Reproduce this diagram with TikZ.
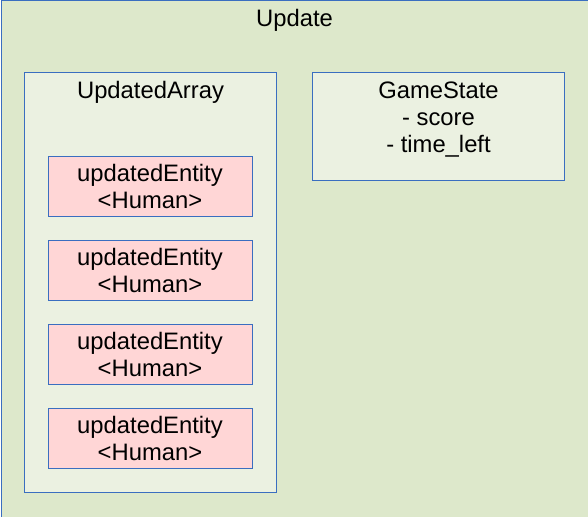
\documentclass[tikz,border=0pt]{standalone}
\usepackage{fontspec}
\setmainfont{Liberation Sans}
\usetikzlibrary{positioning}
\definecolor{outerFill}{RGB}{221,232,203}
\definecolor{groupFill}{RGB}{235,241,225}
\definecolor{entityFill}{RGB}{255,214,214}
\definecolor{boxLine}{RGB}{58,110,192}
\newcommand{\boxfont}{\fontsize{23.8}{27}\selectfont}
\tikzstyle{group} = [draw=boxLine, fill=groupFill, line width=1pt, inner sep=0pt, anchor=north west]
\tikzstyle{entity} = [draw=boxLine, fill=entityFill, line width=1pt, inner sep=0pt, minimum width=204pt, minimum height=60pt, align=center, font=\boxfont, node distance=23pt]
\tikzstyle{caption} = [anchor=north, inner sep=0pt, align=center, font=\boxfont]

\begin{document}
\begin{tikzpicture}[x=1pt, y=-1pt]
\useasboundingbox (0,0) rectangle (588,516);

% Define nodes
\node[group, fill=outerFill, minimum width=640pt, minimum height=580pt] (update) at (0.5,0.5) {};
\node[caption, below = 9pt of update.north west, xshift=294pt] (updateT) {Update};

\node[group, minimum width=252pt, minimum height=420pt] (arr) at (24,72) {};
\node[caption, below = 9.5pt of arr.north] (arrT) {UpdatedArray};

\node[group, minimum width=252pt, minimum height=108pt] (gs) at (312,72) {};
\node[caption, below = 9.5pt of gs.north] (gsT) {GameState\\- score\\- time\_left};

\node[entity] at (150,186)   (e1) {updatedEntity\\<Human>};
\node[entity, below = of e1] (e2) {updatedEntity\\<Human>};
\node[entity, below = of e2] (e3) {updatedEntity\\<Human>};
\node[entity, below = of e3] (e4) {updatedEntity\\<Human>};
\end{tikzpicture}
\end{document}
